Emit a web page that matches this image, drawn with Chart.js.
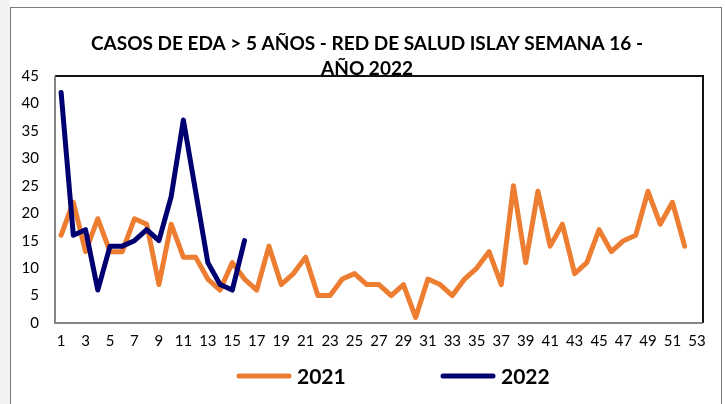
<!DOCTYPE html>
<html>
<head>
<meta charset="utf-8">
<script src="https://cdn.jsdelivr.net/npm/chart.js@4.4.0/dist/chart.umd.min.js"></script>
<style>
  body { margin: 0; background: #fff; }
  canvas { display: block; }
</style>
</head>
<body>
<canvas id="edaChart" width="725" height="404"></canvas>
<script>
// semanas epidemiológicas
const semanas = ['1', '2', '3', '4', '5', '6', '7', '8', '9', '10', '11', '12', '13', '14', '15', '16', '17', '18',
    '19', '20', '21', '22', '23', '24', '25', '26', '27', '28', '29', '30', '31', '32', '33', '34', '35', '36',
    '37', '38', '39', '40', '41', '42', '43', '44', '45', '46', '47', '48', '49', '50', '51', '52', '53'];
const casos2021 = [16, 22, 13, 19, 13, 13, 19, 18, 7, 18, 12, 12, 8, 6, 11, 8, 6, 14, 7, 9, 12, 5, 5, 8, 9, 7,
    7, 5, 7, 1, 8, 7, 5, 8, 10, 13, 7, 25, 11, 24, 14, 18, 9, 11, 17, 13, 15, 16, 24, 18, 22, 14];
const casos2022 = [42, 16, 17, 6, 14, 14, 15, 17, 15, 23, 37, 24, 11, 7, 6, 15];
const titulo = ['CASOS DE EDA > 5 AÑOS - RED DE SALUD ISLAY SEMANA 16 -', 'AÑO 2022'];

const canvas = document.getElementById('edaChart');

// fondo, marco, título y leyenda al estilo Excel
const marcoExcel = {
    id: 'marcoExcel',
    beforeDraw(chart) {
        const ctx = chart.ctx;
        ctx.save();
        ctx.fillStyle = '#fff';
        ctx.fillRect(0, 0, chart.width, chart.height);
        ctx.fillStyle = '#f2f2f2';
        ctx.fillRect(0, 0, 10, chart.height);
        ctx.strokeStyle = '#7a7a7a';
        ctx.lineWidth = 1;
        ctx.strokeRect(10.5, 7.5, 711, 420);
        ctx.restore();
    },
    beforeDatasetsDraw(chart) {
        const a = chart.chartArea;
        const ctx = chart.ctx;
        ctx.save();
        ctx.lineWidth = 2;
        ctx.strokeStyle = '#111';
        ctx.beginPath();
        ctx.moveTo(a.left, a.top);
        ctx.lineTo(a.right, a.top);
        ctx.lineTo(a.right, a.bottom);
        ctx.stroke();
        ctx.strokeStyle = '#858585';
        ctx.beginPath();
        ctx.moveTo(a.right, a.bottom);
        ctx.lineTo(a.left, a.bottom);
        ctx.lineTo(a.left, a.top);
        ctx.stroke();
        ctx.restore();
    },
    afterDraw(chart) {
        const ctx = chart.ctx;
        ctx.save();
        ctx.fillStyle = '#000';
        ctx.textAlign = 'center';
        ctx.textBaseline = 'middle';
        ctx.font = 'bold 19px Lato';
        ctx.fillText(titulo[0], 367, 44);
        ctx.fillText(titulo[1], 367, 69);

        // leyenda
        const posX = [239, 443];
        ctx.textAlign = 'left';
        ctx.font = 'bold 21px Lato';
        ctx.lineCap = 'round';
        ctx.lineWidth = 5;
        [chart.data.datasets[1], chart.data.datasets[0]].forEach((ds, i) => {
            ctx.strokeStyle = ds.borderColor;
            ctx.beginPath();
            ctx.moveTo(posX[i], 376);
            ctx.lineTo(posX[i] + 50, 376);
            ctx.stroke();
            ctx.fillText(ds.label, posX[i] + 58, 377);
        });
        ctx.restore();
    }
};

new Chart(canvas, {
    type: 'line',
    data: {
        labels: semanas,
        datasets: [{
            label: '2022',
            data: casos2022,
            borderColor: '#000070',
            order: 0
        }, {
            label: '2021',
            data: casos2021,
            borderColor: '#ED7D31',
            order: 1
        }]
    },
    options: {
        responsive: false,
        animation: false,
        layout: {
            padding: { left: 12, right: 22, top: 76, bottom: 51 }
        },
        elements: {
            point: { radius: 0 },
            line: { borderWidth: 5, borderCapStyle: 'round', borderJoinStyle: 'round', tension: 0, fill: false }
        },
        plugins: {
            legend: { display: false },
            title: { display: false },
            tooltip: { enabled: false }
        },
        scales: {
            x: {
                offset: true,
                grid: { display: false, drawTicks: false },
                border: { display: false },
                ticks: {
                    autoSkip: false,
                    maxRotation: 0,
                    padding: 9,
                    color: '#000',
                    font: { family: 'Lato', size: 15 },
                    callback: (v, i) => i % 2 === 0 ? semanas[i] : ''
                },
                afterFit: scale => { scale.height = 30; }
            },
            y: {
                min: 0,
                max: 45,
                grid: { display: false, drawTicks: false },
                border: { display: false },
                ticks: {
                    stepSize: 5,
                    padding: 16,
                    color: '#000',
                    font: { family: 'Lato', size: 15 }
                },
                afterFit: scale => { scale.width = 43; }
            }
        }
    },
    plugins: [marcoExcel]
});
</script>
</body>
</html>
